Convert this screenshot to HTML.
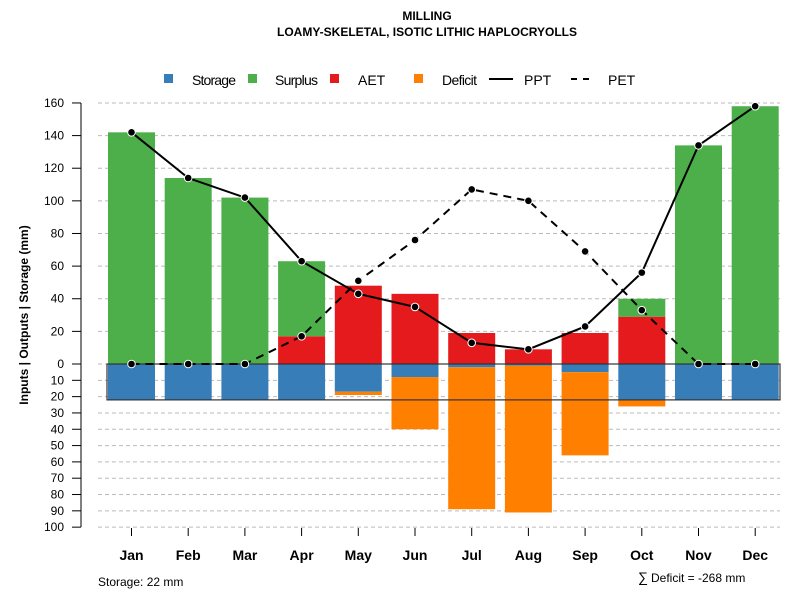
<!DOCTYPE html>
<html><head><meta charset="utf-8"><style>
body{margin:0;background:#fff;}
svg text{font-family:"Liberation Sans",Arial,sans-serif;}
</style></head><body>
<svg id="chart" width="800" height="600" xmlns="http://www.w3.org/2000/svg">
<text x="427" y="20" text-anchor="middle" font-size="12" font-weight="bold">MILLING</text>
<text x="427" y="36" text-anchor="middle" font-size="12" font-weight="bold">LOAMY-SKELETAL, ISOTIC LITHIC HAPLOCRYOLLS</text>
<g id="grid"></g>
<g id="bars"></g>
<g id="lines"></g>
<g id="axes"></g>
<g>
<rect x="164" y="74" width="9" height="9" fill="#377eb8"/>
<text x="192" y="85" font-size="14" textLength="44">Storage</text>
<rect x="248" y="74" width="9" height="9" fill="#4daf4a"/>
<text x="275" y="85" font-size="14" textLength="43">Surplus</text>
<rect x="330" y="74" width="9" height="9" fill="#e41a1c"/>
<text x="358" y="85" font-size="14">AET</text>
<rect x="414" y="74" width="9" height="9" fill="#ff7f00"/>
<text x="442" y="85" font-size="14" textLength="35">Deficit</text>
<line x1="489" y1="79" x2="513" y2="79" stroke="#000" stroke-width="2"/>
<text x="524" y="85" font-size="14">PPT</text>
<line x1="571" y1="79" x2="593" y2="79" stroke="#000" stroke-width="2" stroke-dasharray="6,6"/>
<text x="608" y="85" font-size="14">PET</text>
</g>
<text transform="translate(28,315) rotate(-90)" text-anchor="middle" font-size="12" font-weight="bold">Inputs | Outputs | Storage    (mm)</text>
<text x="98" y="586" font-size="12">Storage: 22 mm</text>
<text x="638" y="582" font-size="14">∑</text>
<text x="651" y="582" font-size="12">Deficit = -268 mm</text>
</svg>
<script>
const months=["Jan","Feb","Mar","Apr","May","Jun","Jul","Aug","Sep","Oct","Nov","Dec"];
const ppt=[142,114,102,63,43,35,13,9,23,56,134,158];
const pet=[0,0,0,17,51,76,107,100,69,33,0,0];
const aet=[0,0,0,17,48,43,19,9,19,29,0,0];
const surplus=[142,114,102,46,0,0,0,0,0,11,134,158];
const storage=[22,22,22,22,17,8,2,1,5,22,22,22];
const deficit=[0,0,0,0,2,32,87,90,51,4,0,0];
const upTicks=[0,20,40,60,80,100,120,140,160];
const downTicks=[10,20,30,40,50,60,70,80,90,100];
const storageMax=22;

const NS="http://www.w3.org/2000/svg";
const y0=364, k=1.6315;
const yUp=v=>y0-v*k, yDown=v=>y0+v*k;
const xC=i=>131.5+i*56.7;
const bw=47;
function mk(tag,attrs,parent){const e=document.createElementNS(NS,tag);for(const a in attrs)e.setAttribute(a,attrs[a]);document.getElementById(parent).appendChild(e);return e;}

upTicks.forEach(t=>{
  const g=mk('line',{x1:98,x2:780,y1:yUp(t),y2:yUp(t),stroke:'#bbb','stroke-dasharray':'4,3'},'grid');
  
  
  const tk=mk('line',{x1:72,x2:81,y1:yUp(t),y2:yUp(t),stroke:'#000'},'axes');
  
  
  const tx=mk('text',{x:64,y:yUp(t)+4,'text-anchor':'end','font-size':12},'axes');
  tx.textContent=t;
  
  
});
downTicks.forEach(t=>{
  const g=mk('line',{x1:98,x2:780,y1:yDown(t),y2:yDown(t),stroke:'#bbb','stroke-dasharray':'4,3'},'grid');
  
  
  const tk=mk('line',{x1:72,x2:81,y1:yDown(t),y2:yDown(t),stroke:'#000'},'axes');
  
  
  const tx=mk('text',{x:64,y:yDown(t)+4,'text-anchor':'end','font-size':12},'axes');
  tx.textContent=t;
  
  
});
const ax=mk('line',{x1:81,x2:81,y1:yUp(160),y2:yDown(100),stroke:'#000'},'axes');



months.forEach((m,i)=>{
  const x=xC(i)-bw/2;
  const s=mk('rect',{x:x,y:y0,width:bw,height:storage[i]*k,fill:'#377eb8'},'bars');
  
  
  if(deficit[i]>0){
    const d=mk('rect',{x:x,y:yDown(storage[i]),width:bw,height:deficit[i]*k,fill:'#ff7f00'},'bars');
    
    
  }
  if(aet[i]>0){
    const a=mk('rect',{x:x,y:yUp(aet[i]),width:bw,height:aet[i]*k,fill:'#e41a1c'},'bars');
    
    
  }
  if(surplus[i]>0){
    const su=mk('rect',{x:x,y:yUp(aet[i]+surplus[i]),width:bw,height:surplus[i]*k,fill:'#4daf4a'},'bars');
    
    
  }
  const tk=mk('line',{x1:xC(i),x2:xC(i),y1:528,y2:536,stroke:'#000'},'axes');
  
  
  const tl=mk('text',{x:xC(i),y:560,'text-anchor':'middle','font-size':14,'font-weight':'bold'},'axes');
  tl.textContent=m;
  
  
});
const box=mk('rect',{x:107,y:y0,width:673,height:storageMax*k,fill:'none',stroke:'#333','stroke-width':1.2},'bars');



function series(vals,dash,name){
  const p=mk('polyline',{points:vals.map((v,i)=>xC(i)+','+yUp(v)).join(' '),fill:'none',stroke:'#000','stroke-width':2,'stroke-dasharray':dash},'lines');
  
  
  vals.forEach((v,i)=>{
    const c=mk('circle',{cx:xC(i),cy:yUp(v),r:3.8,fill:'#000',stroke:'#fff','stroke-width':1},'lines');
    
    
  });
}
series(pet,'8,6','pet');
series(ppt,'none','ppt');
</script>
</body></html>
